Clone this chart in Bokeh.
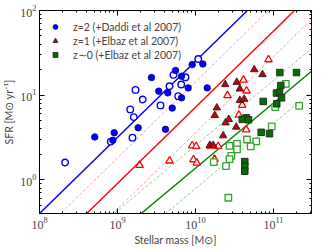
import numpy as np
from bokeh.plotting import figure
from bokeh.models import Range1d, LogAxis, FixedTicker, Legend, LegendItem
from bokeh.embed import file_html
from bokeh.resources import INLINE

# ---- data (log10 stellar mass [Msun], log10 SFR [Msun/yr]) ----
z2_fill_logm = [9.436, 9.529, 9.645, 9.744, 9.701, 9.265, 9.615, 8.958, 8.940, 8.709,
                9.958, 10.094, 9.821, 9.906, 10.150, 9.821]
z2_fill_logsfr = [1.208, 1.047, 1.027, 1.291, 0.847, 0.615, 0.596, 0.556, 0.467, 0.506,
                  1.361, 1.368, 1.224, 1.086, 1.086, 0.968]
z2_open_logm = [8.329, 9.231, 9.324, 9.667, 9.718, 9.551, 9.163, 9.209, 9.192, 8.914,
                10.035, 9.872, 9.817, 9.778]
z2_open_logsfr = [0.204, 1.062, 0.949, 1.106, 1.239, 0.879, 0.832, 0.741, 0.498, 0.451,
                  1.427, 1.212, 1.126, 0.988]

z1_fill_logm = [10.753, 10.859, 10.381, 10.529, 10.568, 10.568, 10.624, 10.273, 10.247,
                10.427, 10.385, 10.522, 10.355, 10.183, 10.227]
z1_fill_logsfr = [1.302, 1.244, 1.126, 1.153, 1.074, 0.938, 0.953, 0.851, 0.761,
                  0.714, 0.674, 0.624, 0.521, 0.408, 0.408]
z1_open_logm = [10.936, 10.615, 10.654, 10.410, 10.599, 10.555, 10.650, 9.958, 10.009,
                10.188, 10.291, 9.974, 10.017, 10.244, 9.282, 9.667]
z1_open_logsfr = [1.420, 1.180, 1.051, 0.996, 0.882, 0.765, 0.592, 0.404, 0.396,
                  0.400, 0.396, 0.239, 0.200, 0.244, 0.173, 0.224]

z0_fill_logm = [11.081, 11.295, 11.094, 11.038, 11.077, 11.103, 11.042, 10.868, 10.650,
                10.599, 10.679, 10.842, 10.949, 10.632, 10.632, 10.632]
z0_fill_logsfr = [1.267, 1.267, 1.114, 1.024, 1.032, 0.968, 0.898, 0.926, 0.733,
                  0.714, 0.709, 0.561, 0.545, 0.215, 0.161, 0.102]
z0_open_logm = [11.158, 11.329, 11.022, 10.978, 10.660, 10.778, 10.532, 10.708, 10.436,
                10.532, 10.459, 10.436, 10.235, 10.391, 10.421]
z0_open_logsfr = [1.133, 0.874, 0.859, 0.632, 0.476, 0.453, 0.424, 0.394, 0.400,
                  0.359, 0.282, 0.244, 0.209, 0.162, -0.212]

legend_labels = ["z=2 (+Daddi et al 2007)", "z=1 (+Elbaz et al 2007)", "z∼0 (+Elbaz et al 2007)"]

# ---- main-sequence relations: SFR = norm * (M / pivot) ** slope ----
daddi_norm, daddi_pivot, daddi_slope = 200.0, 1e11, 0.9
elbaz1_norm, elbaz1_lo, elbaz1_hi, elbaz1_pivot, elbaz1_slope = 7.2, 3.6, 14.4, 1e10, 0.9
elbaz0_norm, elbaz0_lo, elbaz0_hi, elbaz0_pivot, elbaz0_slope = 8.7, 5.0, 16.1, 1.1e11, 0.77

x_ticks = [1e8, 1e9, 1e10, 1e11]
y_ticks = [1.0, 10.0, 100.0]
x_limits = (1e8, 3.07e11)
y_limits = (0.4, 100.0)

line_mass = np.array([1e7, 1e12])


def rel(norm, pivot, slope):
    return norm * (line_mass / pivot) ** slope


def minors(majors):
    out = []
    for m in [majors[0] / 10] + list(majors):
        out += [k * m for k in range(2, 10)]
    return out


p = figure(frame_width=272, frame_height=203,
           x_axis_type="log", y_axis_type="log",
           x_range=Range1d(*x_limits), y_range=Range1d(*y_limits),
           output_backend="svg", toolbar_location=None,
           min_border_left=38, min_border_right=6, min_border_top=10, min_border_bottom=22)
p.grid.visible = False
p.outline_line_color = "black"
p.background_fill_color = "white"

# relations
p.line(line_mass, rel(daddi_norm, daddi_pivot, daddi_slope), line_color="blue", line_width=1.4)
p.line(line_mass, rel(elbaz1_norm, elbaz1_pivot, elbaz1_slope), line_color="red", line_width=1.4)
for n in (elbaz1_lo, elbaz1_hi):
    p.line(line_mass, rel(n, elbaz1_pivot, elbaz1_slope), line_color="#ff3030", line_alpha=0.6,
           line_width=0.8, line_dash="3 2")
p.line(line_mass, rel(elbaz0_norm, elbaz0_pivot, elbaz0_slope), line_color="green", line_width=1.4)
for n in (elbaz0_lo, elbaz0_hi):
    p.line(line_mass, rel(n, elbaz0_pivot, elbaz0_slope), line_color="#1a9a1a", line_alpha=0.6,
           line_width=0.8, line_dash="3 2")


def t(a):
    return [10 ** v for v in a]


# open markers
p.scatter(t(z2_open_logm), t(z2_open_logsfr), marker="circle", size=6.5,
          fill_color="white", line_color="blue", line_width=1.4)
p.scatter(t(z1_open_logm), t(z1_open_logsfr), marker="triangle", size=7.5,
          fill_color="white", line_color="red", line_width=1.3)
p.scatter(t(z0_open_logm), t(z0_open_logsfr), marker="square", size=6.5,
          fill_color="white", line_color="#33a02c", line_width=1.3)
# filled markers
r2 = p.scatter(t(z2_fill_logm), t(z2_fill_logsfr), marker="circle", size=6.5,
               fill_color="blue", line_color="#000080", line_width=0.8)
r1 = p.scatter(t(z1_fill_logm), t(z1_fill_logsfr), marker="triangle", size=7.5,
               fill_color="#cc0000", line_color="#222222", line_width=0.9)
r0 = p.scatter(t(z0_fill_logm), t(z0_fill_logsfr), marker="square", size=6.5,
               fill_color="#007000", line_color="#222222", line_width=0.9)

legend = Legend(items=[
    LegendItem(label=legend_labels[0], renderers=[r2]),
    LegendItem(label=legend_labels[1], renderers=[r1]),
    LegendItem(label=legend_labels[2], renderers=[r0]),
], location="top_left", margin=10, padding=4, spacing=1, glyph_width=12, glyph_height=13,
    label_height=13, label_standoff=12, border_line_color=None,
    background_fill_alpha=0, label_text_font="Lato", label_text_font_size="10.5px")
p.add_layout(legend, "center")


def style(ax, labels=True):
    ax.major_tick_in = 5
    ax.major_tick_out = 0
    ax.minor_tick_in = 2
    ax.minor_tick_out = 0
    ax.axis_line_color = "black"
    ax.major_tick_line_color = "black"
    ax.minor_tick_line_color = "black"
    if labels:
        ax.major_label_text_font = "Liberation Serif"
        ax.major_label_text_font_size = "12px"
        ax.major_label_standoff = 3
        ax.axis_label_text_font = "Lato"
        ax.axis_label_text_font_size = "10.5px"
        ax.axis_label_text_font_style = "normal"
        ax.axis_label_standoff = 2
    else:
        ax.major_label_text_font_size = "1px"
        ax.major_label_text_color = None
        ax.major_label_standoff = 0


p.xaxis.ticker = FixedTicker(ticks=x_ticks, minor_ticks=minors(x_ticks))
p.yaxis.ticker = FixedTicker(ticks=y_ticks, minor_ticks=minors(y_ticks))
style(p.xaxis[0])
style(p.yaxis[0])
p.xaxis.axis_label = "Stellar mass [M⊙]"
p.yaxis.axis_label = "SFR [M⊙ yr⁻¹]"

top = LogAxis(ticker=FixedTicker(ticks=x_ticks, minor_ticks=minors(x_ticks)))
right = LogAxis(ticker=FixedTicker(ticks=y_ticks, minor_ticks=minors(y_ticks)))
style(top, labels=False)
style(right, labels=False)
p.add_layout(top, "above")
p.add_layout(right, "right")

open("out.html", "w").write(file_html(p, INLINE))
